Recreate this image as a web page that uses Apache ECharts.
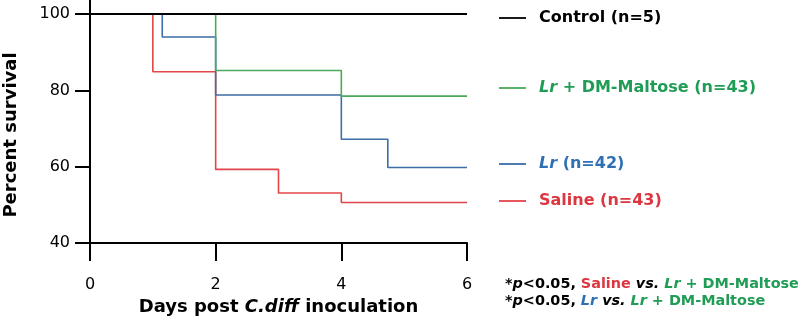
<!DOCTYPE html>
<html>
<head>
<meta charset="utf-8">
<script src="https://cdn.jsdelivr.net/npm/echarts@6/dist/echarts.min.js"></script>
<style>
  html, body { margin: 0; padding: 0; background: #fff; }
  #chart { width: 800px; height: 323px; }
</style>
</head>
<body>
<div id="chart"></div>
<script>
// survival data (days, percent)
const controlDays = [0, 6]
const controlSurv = [100, 100]
const lrDmDays = [0, 2, 4, 6]
const lrDmSurv = [100, 85.2, 78.5, 78.5]
const lrDays = [0, 1.15, 2, 4, 4.74, 6]
const lrSurv = [100, 94, 78.8, 67.2, 59.8, 59.8]
const salineDays = [0, 1, 2, 3, 4, 6]
const salineSurv = [100, 84.9, 59.3, 53.1, 50.6, 50.6]

const yTicks = [40, 60, 80, 100]
const names = ['Control (n=5)', 'Lr + DM-Maltose (n=43)', 'Lr (n=42)', 'Saline (n=43)']

const FONT = 'DejaVu Sans'
const colors = { control: '#000000', lrDm: '#4aa95b', lr: '#3c6ea8', saline: '#e2454b' }
const textColors = { control: '#000000', lrDm: '#1f9c55', lr: '#2f6fb3', saline: '#dc3640' }

function pairs(xs, ys) {
  return xs.map((x, i) => [x, ys[i]])
}

function lineSeries(name, xs, ys, color, width) {
  return {
    name: name,
    type: 'line',
    step: 'end',
    symbol: 'none',
    data: pairs(xs, ys),
    lineStyle: { color: color, width: width },
    itemStyle: { color: color }
  }
}

// one legend per group so each label sits next to its curve end
function legendAt(name, top, color) {
  return {
    data: [name],
    left: 499,
    top: top,
    padding: 0,
    selectedMode: false,
    icon: 'path://M0,0H30V2H0Z',
    itemWidth: 27,
    itemHeight: 2,
    formatter: n => n.replace(/^Lr/, '{i|Lr}'),
    textStyle: {
      color: color,
      fontFamily: FONT,
      fontWeight: 'bold',
      fontSize: 16,
      padding: [0, 0, 0, 8],
      rich: {
        i: { color: color, fontFamily: FONT, fontWeight: 'bold', fontStyle: 'italic', fontSize: 16 }
      }
    }
  }
}

const chart = echarts.init(document.getElementById('chart'))
const noteStyle = (c, it) => ({ color: c, fontFamily: FONT, fontWeight: 'bold', fontSize: 14.4, fontStyle: it ? 'italic' : 'normal', lineHeight: 17 })

chart.setOption({
  animation: false,
  grid: { left: 90, right: 333, top: 0, bottom: 80, containLabel: false },
  xAxis: {
    type: 'value',
    min: 0,
    max: 6,
    interval: 2,
    name: 'Days post {i|C.diff} inoculation',
    nameLocation: 'middle',
    nameGap: 55,
    nameTextStyle: {
      color: '#000', fontFamily: FONT, fontWeight: 'bold', fontSize: 18,
      rich: { i: { color: '#000', fontFamily: FONT, fontWeight: 'bold', fontStyle: 'italic', fontSize: 18 } }
    },
    axisLine: { lineStyle: { color: '#000', width: 2 } },
    axisTick: { length: 18, lineStyle: { color: '#000', width: 2 } },
    axisLabel: { margin: 34, color: '#000', fontFamily: FONT, fontSize: 16 },
    splitLine: { show: false }
  },
  yAxis: {
    type: 'value',
    min: 40,
    max: 103.7,
    axisLine: { show: true, lineStyle: { color: '#000', width: 2 } },
    axisTick: { show: true, length: 15, customValues: yTicks, lineStyle: { color: '#000', width: 2 } },
    axisLabel: { margin: 20, customValues: yTicks, color: '#000', fontFamily: FONT, fontSize: 16 },
    splitLine: { show: false }
  },
  legend: [
    legendAt(names[0], 10, textColors.control),
    legendAt(names[1], 80, textColors.lrDm),
    legendAt(names[2], 156, textColors.lr),
    legendAt(names[3], 193, textColors.saline)
  ],
  title: {
    left: 505,
    top: 276,
    padding: 0,
    text: '{k|*}{ki|p}{k|<0.05, }{r|Saline}{ki| vs. }{gi|Lr}{g| + DM-Maltose}\n' +
          '{k|*}{ki|p}{k|<0.05, }{bi|Lr}{ki| vs. }{gi|Lr}{g| + DM-Maltose}',
    textStyle: {
      fontFamily: FONT, fontWeight: 'bold', fontSize: 14.4, lineHeight: 17,
      rich: {
        k: noteStyle('#000', false),
        ki: noteStyle('#000', true),
        r: noteStyle(textColors.saline, false),
        g: noteStyle(textColors.lrDm, false),
        gi: noteStyle(textColors.lrDm, true),
        bi: noteStyle(textColors.lr, true)
      }
    }
  },
  graphic: [{
    type: 'text',
    x: 11,
    y: 135,
    rotation: Math.PI / 2,
    style: {
      text: 'Percent survival',
      align: 'center',
      verticalAlign: 'middle',
      fontFamily: FONT,
      fontWeight: 'bold',
      fontSize: 18,
      fill: '#000'
    }
  }],
  series: [
    lineSeries(names[3], salineDays, salineSurv, colors.saline, 1.6),
    lineSeries(names[2], lrDays, lrSurv, colors.lr, 1.6),
    lineSeries(names[1], lrDmDays, lrDmSurv, colors.lrDm, 1.6),
    lineSeries(names[0], controlDays, controlSurv, colors.control, 2)
  ]
})
</script>
</body>
</html>
